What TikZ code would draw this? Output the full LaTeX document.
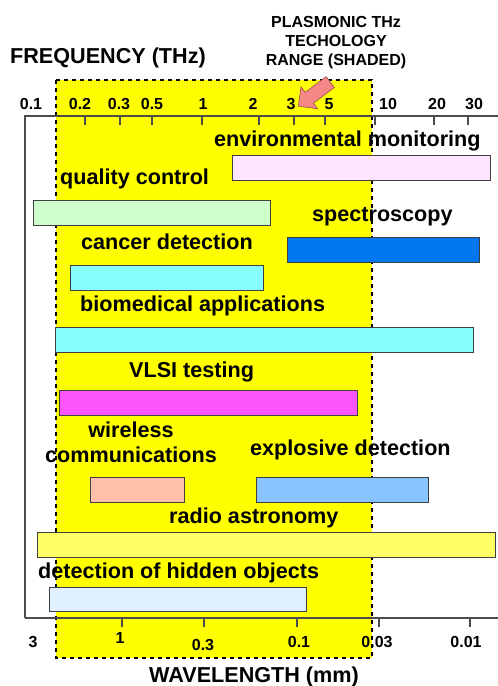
\documentclass[tikz,border=0pt]{standalone}
\usepackage{fontspec}
\setmainfont{Liberation Sans}
\usetikzlibrary{shapes.arrows}

\definecolor{plasyellow}{RGB}{255,255,0}
\definecolor{envpink}{RGB}{255,228,255}
\definecolor{qcgreen}{RGB}{204,255,204}
\definecolor{specblue}{RGB}{0,119,238}
\definecolor{biocyan}{RGB}{136,255,255}
\definecolor{vlsimag}{RGB}{255,85,255}
\definecolor{wirepeach}{RGB}{255,192,170}
\definecolor{explblue}{RGB}{136,196,255}
\definecolor{radioyel}{RGB}{255,255,102}
\definecolor{hidblue}{RGB}{224,240,255}
\definecolor{arrowpink}{RGB}{245,135,135}

\begin{document}
\begin{tikzpicture}[x=1pt,y=-1pt,
  bar/.style={draw=black!75,line width=1pt},
  lbl/.style={anchor=base west,inner sep=0pt,font=\fontsize{21.6}{24}\selectfont\bfseries},
  ticklbl/.style={anchor=base,inner sep=0pt,font=\fontsize{16}{19}\selectfont\bfseries},
  axis/.style={draw=black!70,line width=1.2pt}]
\useasboundingbox (0,0) rectangle (498,686);

% shaded plasmonic range
\fill[plasyellow] (56,80) rectangle (372,658);
\draw[dashed,line width=2pt,dash pattern=on 4pt off 4pt] (56,80) rectangle (372,658);

% axes
\draw[axis] (25,618) -- (25,116) -- (498,116);
\draw[axis] (25,618) -- (498,618);
\foreach \x in {85,120,152,202,259,294,325,375,434,468}
  \draw[axis] (\x,116) -- (\x,125);
\foreach \x in {122,204,297,379,470}
  \draw[axis] (\x,618) -- (\x,627);

% frequency labels
\node[ticklbl] (f01) at (31,109) {0.1};
\node[ticklbl] (f02) at (80,109) {0.2};
\node[ticklbl] (f03) at (119,109) {0.3};
\node[ticklbl] (f05) at (152,109) {0.5};
\node[ticklbl] (f1) at (203,109) {1};
\node[ticklbl] (f2) at (253,109) {2};
\node[ticklbl] (f3) at (291,109) {3};
\node[ticklbl] (f5) at (329,109) {5};
\node[ticklbl] (f10) at (388,109) {10};
\node[ticklbl] (f20) at (437,109) {20};
\node[ticklbl] (f30) at (474,109) {30};

% wavelength labels
\node[ticklbl] (w3) at (33,647) {3};
\node[ticklbl] (w1) at (120,643) {1};
\node[ticklbl] (w03) at (203,650) {0.3};
\node[ticklbl] (w01) at (299,647) {0.1};
\node[ticklbl] (w003) at (377,647) {0.03};
\node[ticklbl] (w001) at (466,647) {0.01};

% titles
\node[lbl] (freq) at (10,63) {FREQUENCY (THz)};
\node[lbl,anchor=base] (wave) at (254,682) {WAVELENGTH (mm)};
\node[ticklbl] (plas1) at (336,27) {PLASMONIC THz};
\node[ticklbl] (plas2) at (336,46) {TECHOLOGY};
\node[ticklbl] (plas3) at (336,65) {RANGE (SHADED)};
\node[single arrow,fill=arrowpink,draw=arrowpink!60!black,line width=0.6pt,
  minimum height=40pt,inner xsep=0pt,inner ysep=6.5pt,single arrow head extend=7pt,
  single arrow head indent=0pt,rotate=-143] (plasarrow) at (317,92) {};

% application bars
\draw[bar,fill=envpink] (232,155) rectangle (490,180);
\draw[bar,fill=qcgreen] (33,200) rectangle (270,225);
\draw[bar,fill=specblue] (287,237) rectangle (479,262);
\draw[bar,fill=biocyan] (70,265) rectangle (263,290);
\draw[bar,fill=biocyan] (55,327) rectangle (473,352);
\draw[bar,fill=vlsimag] (59,390) rectangle (357,415);
\draw[bar,fill=wirepeach] (90,477) rectangle (184,502);
\draw[bar,fill=explblue] (256,477) rectangle (428,502);
\draw[bar,fill=radioyel] (37,532) rectangle (495,557);
\draw[bar,fill=hidblue] (49,587) rectangle (306,611);

% application labels
\node[lbl] (env) at (214,146) {environmental monitoring};
\node[lbl] (qc) at (60,184) {quality control};
\node[lbl] (spec) at (312,221) {spectroscopy};
\node[lbl] (cancer) at (81,249) {cancer detection};
\node[lbl] (bio) at (80,311) {biomedical applications};
\node[lbl] (vlsi) at (129,377) {VLSI testing};
\node[lbl,anchor=base] (wire1) at (131,437) {wireless};
\node[lbl,anchor=base] (wire2) at (131,462) {communications};
\node[lbl] (expl) at (250,455) {explosive detection};
\node[lbl] (radio) at (169,523) {radio astronomy};
\node[lbl] (hidden) at (38,578) {detection of hidden objects};
\end{tikzpicture}
\end{document}
